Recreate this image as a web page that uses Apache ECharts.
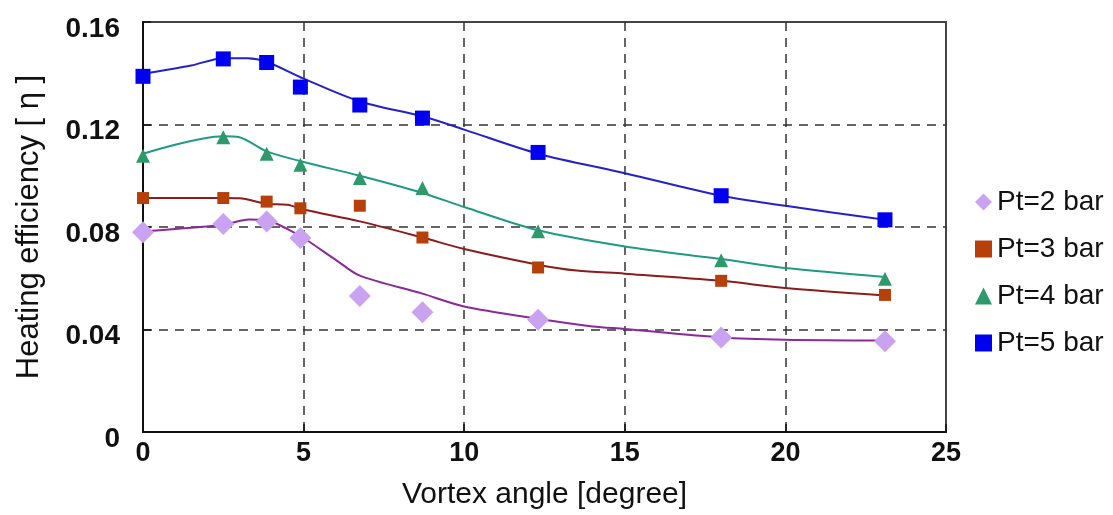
<!DOCTYPE html>
<html>
<head>
<meta charset="utf-8">
<script src="https://cdn.jsdelivr.net/npm/echarts@6/dist/echarts.min.js"></script>
<style>
	html, body { margin: 0; padding: 0; background: #fff; }
	#chart { width: 1113px; height: 515px; }
</style>
</head>
<body>
<div id="chart"></div>
<script>
var angles = [0, 2.5, 3.85, 4.9, 6.75, 8.7, 12.3, 18, 23.1];		// 测点角度

var pt2 = [0.0780, 0.0812, 0.0821, 0.0757, 0.0531, 0.0467, 0.0438, 0.0369, 0.0354];
var pt3 = [0.0913, 0.0913, 0.0899, 0.0873, 0.0883, 0.0759, 0.0642, 0.0590, 0.0535];
var pt4 = [0.1078, 0.1150, 0.1086, 0.1043, 0.0991, 0.0952, 0.0783, 0.0670, 0.0598];
var pt5 = [0.1388, 0.1456, 0.1442, 0.1346, 0.1276, 0.1225, 0.1091, 0.0922, 0.0828];

// 拟合曲线
var fit2X = [0, 2.5, 3.3, 3.85, 4.5, 5, 6, 6.75, 8.7, 10, 12.3, 14, 15, 18, 20, 23.1];
var fit2Y = [0.0783, 0.0809, 0.0829, 0.0826, 0.0792, 0.0757, 0.0672, 0.0610, 0.0540, 0.0490, 0.0442, 0.0412, 0.0402, 0.0369, 0.0360, 0.0357];
var fit3X = [0, 2.5, 3.0, 3.85, 4.5, 5, 6.75, 8.7, 10, 12.3, 13.5, 15, 18, 20, 23.1];
var fit3Y = [0.0913, 0.0913, 0.0912, 0.0891, 0.0887, 0.0868, 0.0822, 0.0759, 0.0714, 0.0653, 0.0630, 0.0618, 0.0590, 0.0562, 0.0533];
var fit4X = [0, 2.5, 3.0, 3.85, 5, 6.75, 8.7, 10, 12.3, 15, 18, 20, 23.1];
var fit4Y = [0.1086, 0.1154, 0.1150, 0.1095, 0.1054, 0.1000, 0.0933, 0.0878, 0.0787, 0.0724, 0.0675, 0.0640, 0.0605];
var fit5X = [0, 1.5, 2.5, 3.25, 3.85, 5, 6.75, 8.7, 10, 12.3, 15, 18, 20, 23.1];
var fit5Y = [0.1398, 0.1430, 0.1459, 0.1459, 0.1445, 0.1379, 0.1290, 0.1232, 0.1180, 0.1086, 0.1010, 0.0922, 0.0883, 0.0828];

var xTicks = [0, 5, 10, 15, 20, 25];
var yTicks = [0, 0.04, 0.08, 0.12, 0.16];

function pairs(xs, ys) {
	var out = [];
	for (var i = 0; i < xs.length; i++) {
		out.push([xs[i], ys[i]]);
	}
	return out;
}

function fitLine(name, xs, ys, color) {
	return {
		name: name,
		type: 'line',
		data: pairs(xs, ys),
		smooth: 0.3,
		showSymbol: false,
		lineStyle: { color: color, width: 2 },
		silent: true,
		z: 2
	};
}

function points(name, ys, symbol, size, color) {
	return {
		name: name,
		type: 'scatter',
		data: pairs(angles, ys),
		symbol: symbol,
		symbolSize: size,
		itemStyle: { color: color, opacity: 1 },
		z: 3
	};
}

var chart = echarts.init(document.getElementById('chart'));

chart.setOption({
	animation: false,
	backgroundColor: '#fff',
	grid: {
		left: 143, top: 22, width: 803, height: 410,
		show: true, borderColor: '#444', borderWidth: 2
	},
	legend: {
		orient: 'vertical',
		left: 970, top: 183,
		itemGap: 19,
		itemWidth: 17, itemHeight: 17,
		textStyle: { fontFamily: 'Liberation Sans', fontSize: 28, color: '#111' },
		data: ['Pt=2 bar', 'Pt=3 bar', 'Pt=4 bar', 'Pt=5 bar']
	},
	xAxis: {
		type: 'value',
		min: xTicks[0], max: xTicks[xTicks.length - 1], interval: 5,
		name: 'Vortex angle [degree]',
		nameLocation: 'middle', nameGap: 48,
		nameTextStyle: { fontFamily: 'Liberation Sans', fontSize: 30, color: '#111' },
		axisLine: { lineStyle: { color: '#111', width: 2 } },
		axisTick: { inside: true, length: 8, lineStyle: { color: '#111', width: 1.5 } },
		axisLabel: { fontFamily: 'Liberation Sans', fontWeight: 'bold', fontSize: 27, color: '#111', margin: 8 },
		splitLine: { show: true, showMinLine: false, showMaxLine: false, lineStyle: { color: '#333', width: 1.5, type: [9, 7] } }
	},
	yAxis: {
		type: 'value',
		min: yTicks[0], max: yTicks[yTicks.length - 1], interval: 0.04,
		name: 'Heating efficiency [ η ]',
		nameLocation: 'middle', nameGap: 98,
		nameTextStyle: { fontFamily: 'Liberation Sans', fontSize: 31, color: '#111' },
		axisLine: { lineStyle: { color: '#111', width: 2 } },
		axisTick: { inside: true, length: 8, lineStyle: { color: '#111', width: 1.5 } },
		axisLabel: {
			fontFamily: 'Liberation Sans', fontWeight: 'bold', fontSize: 28, color: '#111', margin: 23,
			formatter: function (v) { return '{v|' + (v === 0 ? '0' : v.toFixed(2)) + '}'; },
			rich: { v: { fontFamily: 'Liberation Sans', fontWeight: 'bold', fontSize: 28, color: '#111', padding: [14, 0, 0, 0] } }
		},
		splitLine: { show: true, showMinLine: false, showMaxLine: false, lineStyle: { color: '#333', width: 1.5, type: [9, 7] } }
	},
	series: [
		fitLine('fit2', fit2X, fit2Y, '#8a2a98'),
		fitLine('fit3', fit3X, fit3Y, '#8b1c1c'),
		fitLine('fit4', fit4X, fit4Y, '#1f9a84'),
		fitLine('fit5', fit5X, fit5Y, '#2222c8'),
		points('Pt=2 bar', pt2, 'diamond', 22, '#c9a2f2'),
		points('Pt=3 bar', pt3, 'rect', 12, '#b5400a'),
		points('Pt=4 bar', pt4, 'triangle', 14, '#2e9a6b'),
		points('Pt=5 bar', pt5, 'rect', 15, '#0000f0')
	]
});
</script>
</body>
</html>
